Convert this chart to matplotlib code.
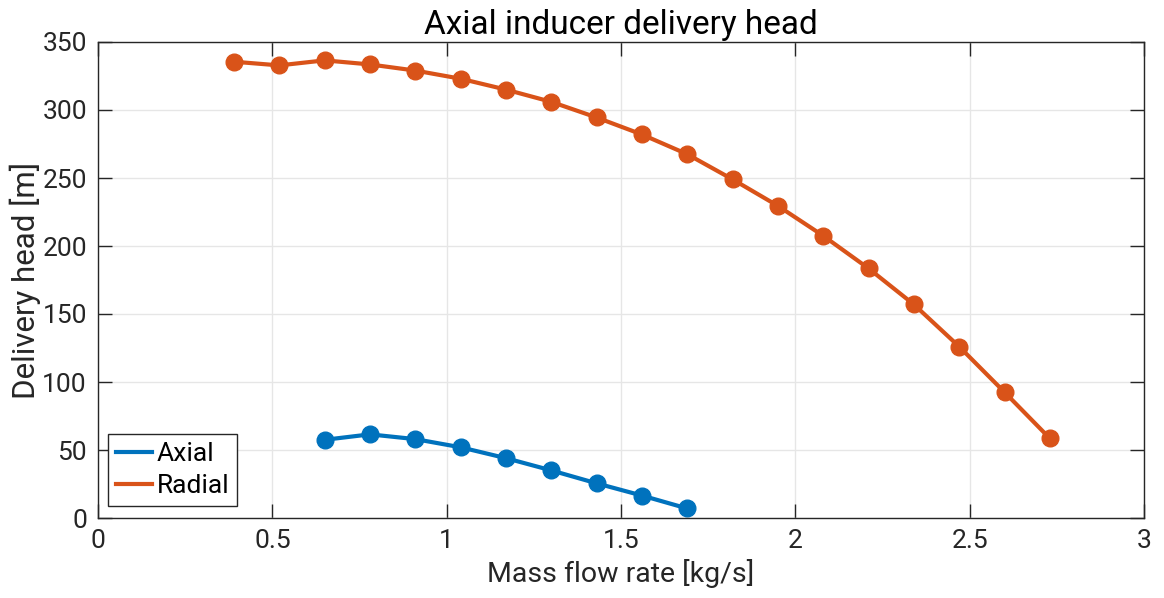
import matplotlib
matplotlib.use("Agg")
import matplotlib.pyplot as plt
from matplotlib.ticker import MultipleLocator, FuncFormatter

radial_flow = [0.39, 0.52, 0.65, 0.78, 0.91, 1.04, 1.17, 1.30, 1.43, 1.56,
               1.69, 1.82, 1.95, 2.08, 2.21, 2.34, 2.47, 2.60, 2.73]
radial_head = [335.5, 332.8, 336.5, 333.5, 329.0, 323.0, 315.0, 306.0, 294.5, 282.0,
               267.5, 249.0, 229.5, 207.5, 183.5, 157.0, 126.0, 92.5, 58.5]
axial_flow = [0.65, 0.78, 0.91, 1.04, 1.17, 1.30, 1.43, 1.56, 1.69]
axial_head = [57.5, 61.5, 58.0, 52.0, 44.0, 35.0, 25.5, 16.5, 7.0]

plt.rcParams['font.family'] = ['Roboto', 'DejaVu Sans']
W = 'normal'

fig = plt.figure(figsize=(11.64, 5.98), dpi=100)
ax = fig.add_axes([98/1164, 1-518/598, (1144-98)/1164, (518-42)/598])

blue = '#0072BD'
orange = '#D95319'
ax.plot(axial_flow, axial_head, '-o', color=blue, lw=3, ms=12, label='Axial')
ax.plot(radial_flow, radial_head, '-o', color=orange, lw=3, ms=12, label='Radial')

ax.set_xlim(0, 3)
ax.set_ylim(0, 350)
ax.xaxis.set_major_locator(MultipleLocator(0.5))
ax.yaxis.set_major_locator(MultipleLocator(50))
ax.xaxis.set_major_formatter(FuncFormatter(lambda v, p: f'{v:g}'))
ax.grid(True, color='#e6e6e6', lw=1)
ax.set_axisbelow(True)
ax.tick_params(direction='in', length=10, width=1, top=True, right=True,
               labelsize=19, colors='#262626', pad=8)
for lab in ax.get_xticklabels() + ax.get_yticklabels():
    lab.set_fontweight(W)
for s in ax.spines.values():
    s.set_color('#262626')
    s.set_linewidth(1)

ax.set_xlabel('Mass flow rate [kg/s]', fontsize=20.5, fontweight=W, color='#262626', labelpad=4)
ax.set_ylabel('Delivery head [m]', fontsize=22.5, fontweight=W, color='#262626', labelpad=1)
ax.set_title('Axial inducer delivery head', fontsize=24, fontweight=W, color='#000000', pad=6)

leg = ax.legend(loc='lower left', fontsize=19, handlelength=1.35, handletextpad=0.2,
                borderpad=0.3, labelspacing=0.3, fancybox=False, framealpha=1,
                edgecolor='#262626', borderaxespad=0,
                bbox_to_anchor=(10/1046, 12/476))
for h in leg.get_lines():
    h.set_marker('')
leg.get_frame().set_linewidth(1)
for t in leg.get_texts():
    t.set_fontweight(W)
    t.set_color('#000000')

fig.savefig('out.png', dpi=100)
